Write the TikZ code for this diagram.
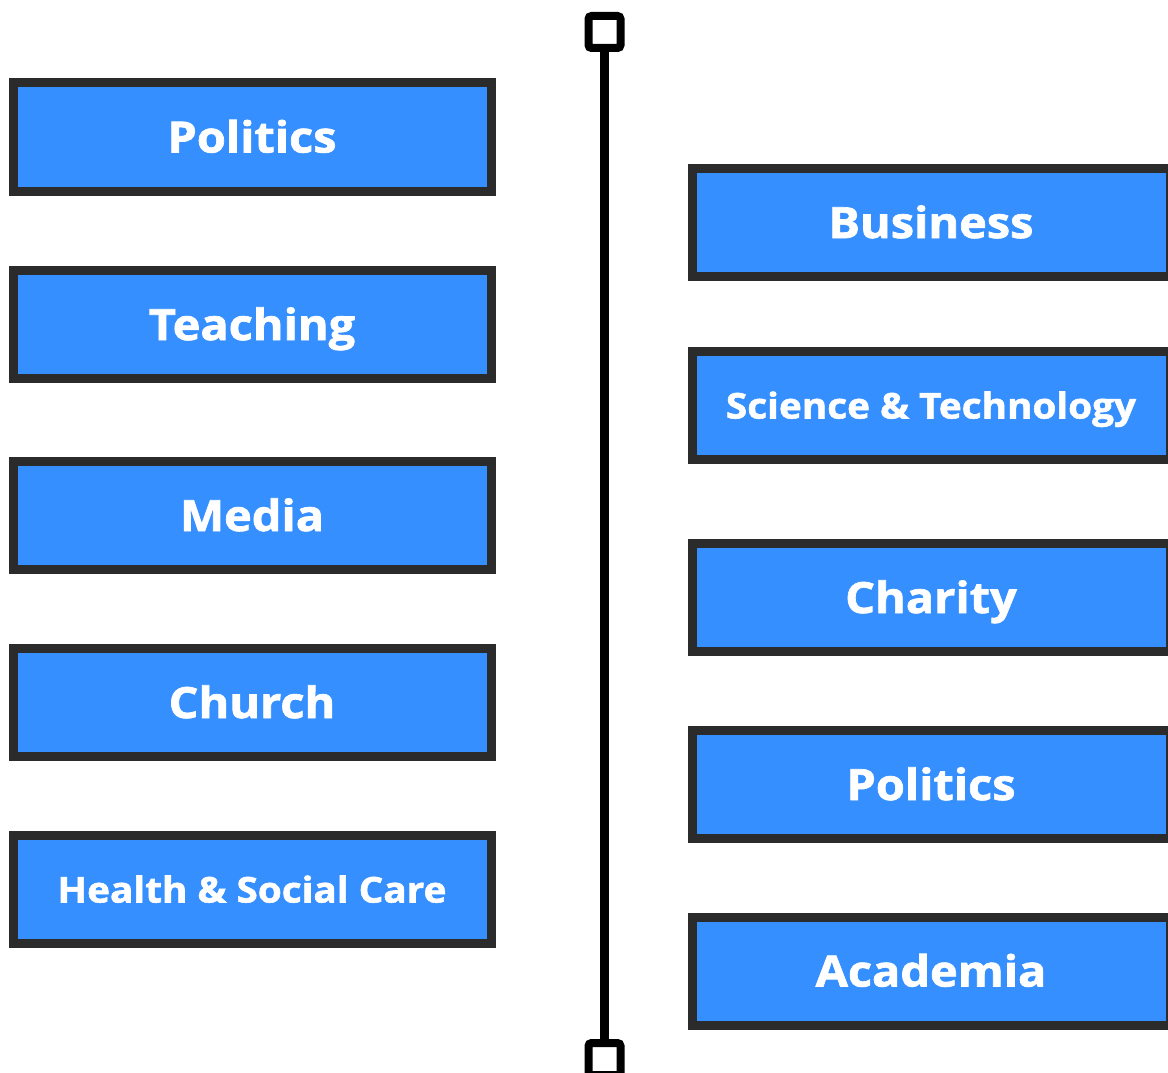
\documentclass[tikz,border=0pt]{standalone}
\usepackage{fontspec}
\setmainfont{Open Sans}
\newfontfamily\heavy{Open Sans}[BoldFeatures={FakeBold=1.6,FakeStretch=1.09}]
\usepackage{tikz}
\definecolor{boxblue}{RGB}{54,143,255}
\definecolor{boxedge}{RGB}{43,43,43}
\tikzstyle{field} = [draw=boxedge,line width=9pt,fill=boxblue,minimum width=478pt,minimum height=108pt,inner sep=0pt,text=white,font=\heavy\bfseries\fontsize{43}{43}\selectfont,text height=31pt,text depth=0pt]
\tikzstyle{small} = [font=\heavy\bfseries\fontsize{35.5}{36}\selectfont,text height=26pt]
\tikzstyle{stop} = [draw=black,line width=8pt,fill=white,minimum size=32pt,inner sep=0pt,rounded corners=3pt]

\begin{document}
\begin{tikzpicture}[x=1pt,y=-1pt]
    \useasboundingbox (0,0) rectangle (1168,1073);

    \node[stop] (top) at (604.5,32) {};
    \node[stop] (bottom) at (604.5,1059) {};
    \draw[line width=9pt] (top) -- (bottom);

    \node[field] (L1) at (252,137) {Politics};
    \node[field] (L2) at (252,324.5) {Teaching};
    \node[field] (L3) at (252,515.5) {Media};
    \node[field] (L4) at (252,702.5) {Church};
    \node[field,small] (L5) at (252,889.5) {Health \& Social Care};

    \node[field] (R1) at (931,222.5) {Business};
    \node[field,small] (R2) at (931,405.5) {Science \& Technology};
    \node[field] (R3) at (931,597.5) {Charity};
    \node[field] (R4) at (931,784.5) {Politics};
    \node[field] (R5) at (931,971) {Academia};

\end{tikzpicture}
\end{document}
